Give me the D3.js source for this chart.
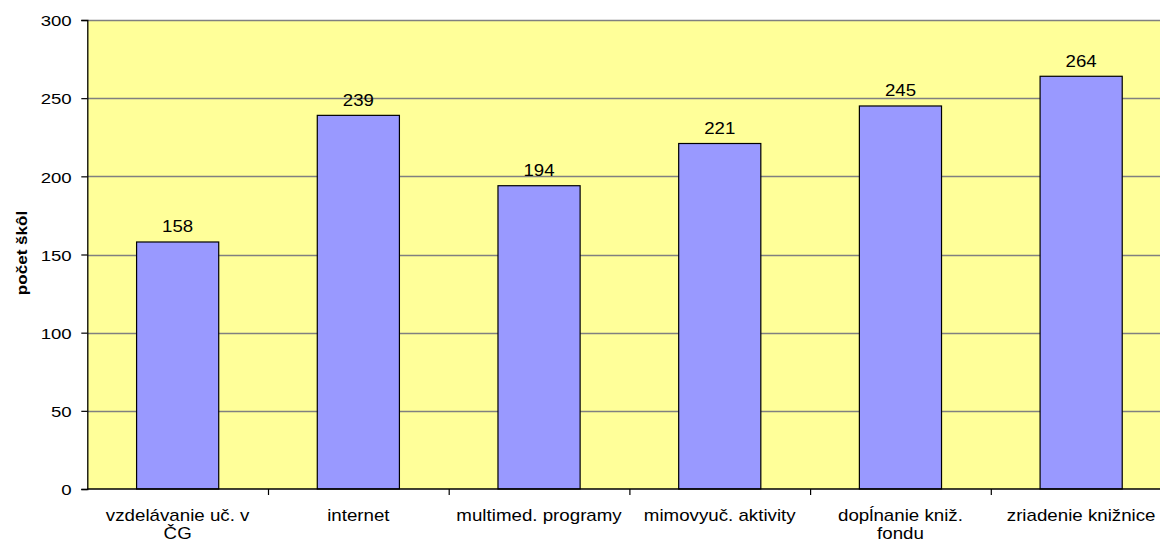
<!DOCTYPE html>
<html>
<head>
<meta charset="utf-8">
<script src="https://cdn.jsdelivr.net/npm/d3@7"></script>
<style>
  html, body { margin: 0; padding: 0; background: #ffffff; }
  svg { display: block; font-family: "Liberation Sans", Arial, sans-serif; }
</style>
</head>
<body>
<svg id="chart" width="1160" height="542"></svg>
<script>
const categories = [
  ["vzdelávanie uč. v", "ČG"],
  ["internet"],
  ["multimed. programy"],
  ["mimovyuč. aktivity"],
  ["dopĺnanie kniž.", "fondu"],
  ["zriadenie knižnice"]
];
const values = [158, 239, 194, 221, 245, 264];
const yTicks = [0, 50, 100, 150, 200, 250, 300];
const yTitle = "počet škôl";

const svg = d3.select("#chart");
const plotL = 87.3, plotR = 1171.5, plotT = 20, plotB = 489;
const FS = 15.5, SX = 1.2;

const x = d3.scaleBand()
  .domain(d3.range(values.length))
  .range([plotL, plotR])
  .paddingInner(1.2 / 2.2)
  .paddingOuter((1.2 / 2.2) / 2);

const y = d3.scaleLinear().domain([0, 300]).range([plotB, plotT]);

// plot background
svg.append("rect")
  .attr("x", plotL).attr("y", plotT)
  .attr("width", plotR - plotL).attr("height", plotB - plotT)
  .attr("fill", "#FFFF99");

// gridlines
svg.append("g").selectAll("line")
  .data(yTicks.filter(d => d > 0))
  .join("line")
  .attr("x1", plotL).attr("x2", plotR)
  .attr("y1", d => Math.round(y(d)) + 0.5).attr("y2", d => Math.round(y(d)) + 0.5)
  .attr("stroke", "#808080").attr("stroke-width", 1.3);

// bars
svg.append("g").selectAll("rect")
  .data(values)
  .join("rect")
  .attr("x", (d, i) => x(i))
  .attr("y", d => y(d))
  .attr("width", x.bandwidth())
  .attr("height", d => plotB - y(d))
  .attr("fill", "#9999FF")
  .attr("stroke", "#000000")
  .attr("stroke-width", 1.2);

// value labels
svg.append("g").selectAll("text")
  .data(values)
  .join("text")
  .attr("transform", (d, i) => `translate(${x(i) + x.bandwidth() / 2},${y(d) - 9.5}) scale(1.13,1)`)
  .attr("text-anchor", "middle")
  .attr("font-size", 16.5)
  .attr("fill", "#000")
  .text(d => d);

// y axis
const yAxis = d3.axisLeft(y).tickValues(yTicks).tickSize(6).tickPadding(8);
const gy = svg.append("g").attr("transform", `translate(${plotL},0)`).call(yAxis);
gy.select(".domain").attr("stroke", "#000").attr("stroke-width", 1.3);
gy.selectAll(".tick line").attr("stroke", "#000").attr("stroke-width", 1.2);
gy.selectAll(".tick text")
  .attr("x", 0).attr("dy", null)
  .attr("transform", `translate(-15.6,5.8) scale(${SX},1)`)
  .attr("font-size", FS).attr("fill", "#000")
  .attr("font-family", "Liberation Sans, Arial, sans-serif");

// x axis line with category separators
const xAxisScale = d3.scaleLinear().domain([0, values.length]).range([plotL, plotR]);
const xAxis = d3.axisBottom(xAxisScale).tickValues(d3.range(1, values.length)).tickSize(6).tickFormat("");
const gx = svg.append("g").attr("transform", `translate(0,${plotB})`).call(xAxis);
gx.select(".domain").attr("stroke", "#000").attr("stroke-width", 1.5).attr("d", `M${plotL},0H${plotR}`);
gx.selectAll(".tick line").attr("stroke", "#000").attr("stroke-width", 1.2);

// x category labels
const lab = svg.append("g").selectAll("text")
  .data(categories)
  .join("text")
  .attr("transform", (d, i) => `translate(${x(i) + x.bandwidth() / 2},520.5) scale(1.17,1)`)
  .attr("text-anchor", "middle")
  .attr("font-size", 16)
  .attr("fill", "#000");
lab.each(function(d) {
  const t = d3.select(this);
  d.forEach((line, j) => {
    t.append("tspan").attr("x", 0).attr("dy", j === 0 ? 0 : 18.5).text(line);
  });
});

// y title
svg.append("text")
  .attr("transform", `translate(27,253) rotate(-90) scale(1.22,1)`)
  .attr("text-anchor", "middle")
  .attr("font-size", 14)
  .attr("font-weight", "bold")
  .attr("fill", "#000")
  .text(yTitle);
</script>
</body>
</html>
